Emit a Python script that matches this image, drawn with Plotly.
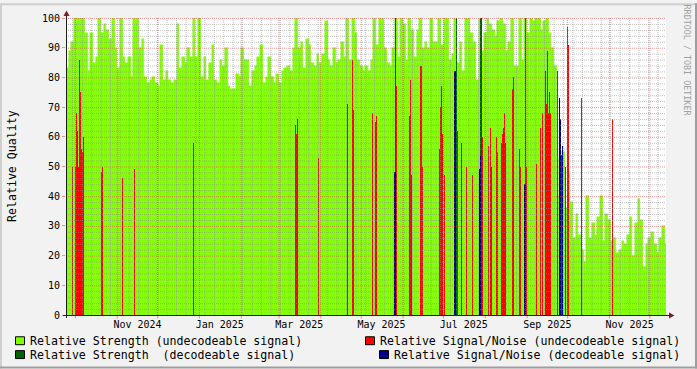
import pandas as pd
import plotly.graph_objects as go

# ---------------- data ----------------
START = "2024-09-24"
END = "2025-12-13"
STEP_DAYS = 2

# Relative Strength (undecodeable signal), one value every 2 days from START
strength_undecodeable = [
    83, 89, 92, 100, 100, 100, 100, 95, 82, 95,
    85, 87, 100, 95, 98, 96, 93, 100, 90, 83,
    100, 87, 85, 87, 80, 100, 100, 90, 93, 80,
    78, 79, 80, 78, 77, 91, 79, 82, 79, 78,
    79, 98, 83, 87, 85, 90, 87, 100, 87, 100,
    80, 87, 79, 85, 91, 79,
    78, 86, 84, 90, 77, 76, 76, 81, 80, 90,
    86, 86, 77, 82, 84, 87, 91, 78, 80, 87,
    80, 78, 81, 78, 82, 83, 84, 82, 90, 100,
    90, 92, 83, 93, 91, 85, 84, 88, 85, 88,
    99, 86, 84, 90, 85, 86, 92, 87, 100, 86,
    100, 95, 86, 84, 82,
    84, 82, 86, 100, 91, 100, 100, 90, 85, 84,
    90, 100, 87, 100, 98, 86, 100, 96, 87, 96,
    100, 90, 92, 90, 100, 92, 92, 100, 91, 100,
    100, 86, 88, 100, 85, 92, 82, 100, 100, 95,
    92, 79, 100, 89, 95, 100, 98, 96, 94, 99,
    100, 98, 89, 92, 100, 84,
    84, 100, 86, 100, 95, 100, 99, 100, 100, 96,
    99, 100, 95, 90, 84, 40, 53, 55, 36, 48,
    38, 26, 34, 27, 22, 18, 40, 26, 31, 27,
    33, 40, 25, 34, 32, 25, 26, 21, 22, 25,
    24, 27, 33, 20, 31, 39, 32, 16, 24, 26,
    28, 24, 21, 26, 30, 24,
]

# Relative Signal/Noise (undecodeable signal)
snr_undecodeable_time = [
    "2024-09-28 20:00", "2024-10-01 01:00", "2024-10-01 19:00", "2024-10-02 13:00",
    "2024-10-03 07:00", "2024-10-04 00:00", "2024-10-04 18:00", "2024-10-05 12:00",
    "2024-10-06 06:00", "2024-10-06 23:00", "2024-10-20 08:00", "2024-10-21 02:00",
    "2024-11-04 22:00", "2024-11-13 19:00", "2024-12-27 13:00", "2025-03-13 05:00",
    "2025-03-13 23:00", "2025-03-14 17:00", "2025-03-30 06:00", "2025-04-20 19:00",
    "2025-04-24 12:00", "2025-04-25 05:00", "2025-05-09 08:00", "2025-05-11 13:00",
    "2025-05-12 07:00", "2025-05-27 03:00", "2025-06-05 18:00", "2025-06-06 12:00",
    "2025-06-07 06:00", "2025-06-13 22:00", "2025-06-14 16:00", "2025-06-15 10:00",
    "2025-06-28 00:00", "2025-06-28 18:00", "2025-06-29 12:00", "2025-06-30 06:00",
    "2025-07-01 17:00", "2025-07-11 09:00", "2025-07-14 08:00", "2025-07-18 01:00",
    "2025-07-22 12:00", "2025-07-29 22:00", "2025-08-03 08:00", "2025-08-04 20:00",
    "2025-08-05 14:00", "2025-08-09 07:00", "2025-08-10 01:00", "2025-08-13 00:00",
    "2025-08-13 18:00", "2025-08-14 11:00", "2025-08-15 05:00", "2025-08-15 23:00",
    "2025-08-21 04:00", "2025-08-21 21:00", "2025-08-26 08:00", "2025-08-27 02:00",
    "2025-08-31 13:00", "2025-09-07 23:00", "2025-09-10 22:00", "2025-09-12 10:00",
    "2025-09-14 15:00", "2025-09-15 09:00", "2025-09-16 03:00", "2025-09-16 20:00",
    "2025-09-17 14:00", "2025-09-18 08:00", "2025-09-23 13:00", "2025-09-29 11:00",
    "2025-09-30 23:00", "2025-10-01 16:00", "2025-10-11 08:00", "2025-11-03 08:00",
]
snr_undecodeable = [
    50, 50, 68, 62, 50, 86, 75, 56, 55, 60, 48, 50,
    46, 49, 58, 64, 61, 66, 53, 71, 86, 69, 68, 65,
    67, 77, 67, 79, 47, 84, 84, 50, 56, 70, 77, 61,
    47, 62, 58, 50, 47, 60, 57, 63, 50, 60, 55, 58,
    61, 63, 68, 58, 76, 80, 56, 50, 50, 51, 63, 68,
    82, 71, 89, 68, 75, 68, 82, 50, 97, 91, 73, 66,
]

# Relative Strength (decodeable signal)
strength_decodeable_time = [
    "2025-05-26 09:00", "2025-07-10 15:00", "2025-07-28 10:00",
    "2025-07-29 04:00", "2025-08-30 19:00", "2025-09-26 12:00",
]
strength_decodeable = [100, 100, 100, 100, 100, 54]

# Relative Signal/Noise (decodeable signal)
snr_decodeable_time = [
    "2025-05-25 15:00", "2025-05-26 09:00", "2025-07-09 03:00", "2025-07-09 21:00",
    "2025-07-27 16:00", "2025-07-28 10:00", "2025-08-30 01:00", "2025-08-30 19:00",
    "2025-09-25 00:00", "2025-09-25 18:00", "2025-09-27 06:00",
]
snr_decodeable = [48, 48, 82, 82, 49, 54, 44, 44, 73, 66, 57]

label_months = ["2024-11-01", "2025-01-01", "2025-03-01", "2025-05-01",
                "2025-07-01", "2025-09-01", "2025-11-01"]
label_text = ["Nov 2024", "Jan 2025", "Mar 2025", "May 2025",
              "Jul 2025", "Sep 2025", "Nov 2025"]
y_ticks = [0, 10, 20, 30, 40, 50, 60, 70, 80, 90, 100]

legend_entries = [
    ("Relative Strength (undecodeable signal)", "#80FF00"),
    ("Relative Strength  (decodeable signal)", "#006400"),
    ("Relative Signal/Noise (undecodeable signal)", "#FF0000"),
    ("Relative Signal/Noise (decodeable signal)", "#000090"),
]

# ---------------- styling / geometry ----------------
W, H = 697, 369
PL, PR, PT, PB = 66, 666, 15, 315
FONT = "DejaVu Sans Mono"
GRID = "rgba(143,143,143,0.55)"
MGRID = "rgba(222,79,79,0.6)"
ARROW = "#801F1F"
AXIS = "#1F1F1F"
GREEN = "#80FF00"

t0 = pd.Timestamp(START)
t1 = pd.Timestamp(END)
px_ms = (t1 - t0).total_seconds() * 1000 / (PR - PL)
step_ms = STEP_DAYS * 86400 * 1000


def fx(X):
    return (X - PL) / (PR - PL)


def fy(Y):
    return (PB - Y) / (PB - PT)


fig = go.Figure()

g_times = pd.date_range(t0, periods=len(strength_undecodeable), freq=f"{STEP_DAYS}D")
fig.add_trace(go.Bar(x=g_times, y=strength_undecodeable, width=step_ms, offset=0,
                     marker=dict(color=GREEN, line=dict(color=GREEN, width=0.5)),
                     hoverinfo="skip"))


def bars(times, vals, color):
    return go.Bar(x=pd.to_datetime(times), y=vals, width=0.9 * px_ms,
                  marker=dict(color=color, line=dict(width=0)), hoverinfo="skip")


fig.add_trace(bars(snr_undecodeable_time, snr_undecodeable, "#FF0000"))
fig.add_trace(bars(strength_decodeable_time, strength_decodeable, "#006400"))
fig.add_trace(bars(snr_decodeable_time, snr_decodeable, "#000090"))

shapes = []
# horizontal grid (drawn above data like rrdtool)
for v in range(2, 101, 2):
    major = v % 10 == 0
    yv = v - 1 / 6
    shapes.append(dict(type="line", xref="paper", yref="y", x0=0, x1=1, y0=yv, y1=yv,
                       line=dict(color=MGRID if major else GRID, width=1, dash="1px,1px"),
                       layer="above"))
# vertical grid: weeks (minor) and months (major)
for d in pd.date_range(t0, t1, freq="W-SUN"):
    shapes.append(dict(type="line", xref="x", yref="paper", x0=d, x1=d, y0=0, y1=1,
                       line=dict(color=GRID, width=1, dash="1px,1px"), layer="above"))
for d in pd.date_range(t0, t1, freq="MS"):
    shapes.append(dict(type="line", xref="x", yref="paper", x0=d, x1=d, y0=0, y1=1,
                       line=dict(color=MGRID, width=1, dash="1px,1px"), layer="above"))
    shapes.append(dict(type="line", xref="x", yref="paper", x0=d, x1=d, y0=fy(315), y1=fy(318.5),
                       line=dict(color=MGRID, width=1), layer="above"))

# axes with arrows
shapes.append(dict(type="line", xref="paper", yref="paper", x0=fx(66.5), x1=fx(66.5),
                   y0=fy(318), y1=fy(12), line=dict(color=AXIS, width=1), layer="above"))
shapes.append(dict(type="line", xref="paper", yref="paper", x0=fx(63), x1=fx(670),
                   y0=fy(315.5), y1=fy(315.5), line=dict(color=AXIS, width=1), layer="above"))
shapes.append(dict(type="path", xref="paper", yref="paper",
                   path=f"M {fx(63.5)},{fy(13)} L {fx(69.5)},{fy(13)} L {fx(66.5)},{fy(7.5)} Z",
                   fillcolor=ARROW, line=dict(width=0), layer="above"))
shapes.append(dict(type="path", xref="paper", yref="paper",
                   path=f"M {fx(669)},{fy(312.5)} L {fx(669)},{fy(318.5)} L {fx(674.5)},{fy(315.5)} Z",
                   fillcolor=ARROW, line=dict(width=0), layer="above"))

# outer frame
shapes.append(dict(type="rect", xref="paper", yref="paper", x0=fx(0), x1=fx(W), y0=fy(0), y1=fy(2),
                   fillcolor="#CFCFCF", line=dict(width=0), layer="below"))
shapes.append(dict(type="rect", xref="paper", yref="paper", x0=fx(0), x1=fx(2), y0=fy(0), y1=fy(H),
                   fillcolor="#CFCFCF", line=dict(width=0), layer="below"))
shapes.append(dict(type="rect", xref="paper", yref="paper", x0=fx(0), x1=fx(W), y0=fy(H - 2), y1=fy(H),
                   fillcolor="#9E9E9E", line=dict(width=0), layer="below"))
shapes.append(dict(type="rect", xref="paper", yref="paper", x0=fx(W - 2), x1=fx(W), y0=fy(0), y1=fy(H),
                   fillcolor="#9E9E9E", line=dict(width=0), layer="below"))

annotations = []
# legend
legend_pos = [(15, 30, 341), (15, 30, 355), (365, 380, 341), (379, 394, 355)]
for (text, color), (bx, tx, cy) in zip(legend_entries, legend_pos):
    shapes.append(dict(type="rect", xref="paper", yref="paper",
                       x0=fx(bx + 0.5), x1=fx(bx + 9.5), y0=fy(cy - 4), y1=fy(cy + 4),
                       fillcolor=color, line=dict(color="#000000", width=1), layer="above"))
    annotations.append(dict(text=text, xref="paper", yref="paper", x=fx(tx), y=fy(cy),
                            xanchor="left", yanchor="middle", showarrow=False,
                            borderpad=0, borderwidth=0,
                            font=dict(family=FONT, size=11.6, color="#000000")))

annotations.append(dict(text="Relative Quality", xref="paper", yref="paper", x=fx(12), y=fy(164.5),
                        xanchor="center", yanchor="middle", textangle=-90, showarrow=False,
                        borderpad=0, font=dict(family=FONT, size=11.6, color="#000000")))
annotations.append(dict(text="RRDTOOL / TOBI OETIKER", xref="paper", yref="paper", x=fx(687), y=fy(58),
                        xanchor="center", yanchor="middle", textangle=90, showarrow=False,
                        borderpad=0, font=dict(family=FONT, size=8.4, color="#A0A0A0")))

label_pos = [pd.Timestamp(m) + pd.Timedelta(days=15) for m in label_months]

fig.update_layout(
    width=W, height=H,
    margin=dict(l=PL, r=W - PR, t=PT, b=H - PB, pad=0),
    paper_bgcolor="#F2F2F2", plot_bgcolor="#FFFFFF",
    showlegend=False, barmode="overlay", bargap=0,
    shapes=shapes, annotations=annotations,
    xaxis=dict(type="date", range=[t0, t1], tickmode="array", tickvals=label_pos, ticktext=label_text,
               ticks="", showgrid=False, zeroline=False, showline=False, fixedrange=True,
               ticklabelstandoff=2,
               tickfont=dict(family=FONT, size=10, color="#000000")),
    yaxis=dict(range=[0, 100], tickmode="array", tickvals=y_ticks, ticks="outside", ticklen=3,
               tickcolor=MGRID, tickwidth=1, showgrid=False, zeroline=False, showline=False,
               fixedrange=True, tickfont=dict(family=FONT, size=10, color="#000000")),
)

fig.write_html("out.html")
